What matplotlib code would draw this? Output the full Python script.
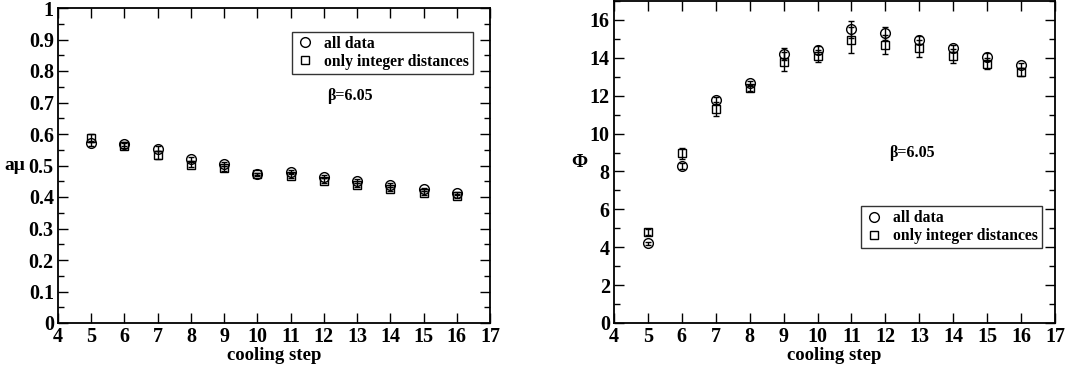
import matplotlib
matplotlib.use("Agg")
import matplotlib.pyplot as plt
import numpy as np
from matplotlib.ticker import MultipleLocator
from matplotlib.lines import Line2D

plt.rcParams['font.family'] = ['Liberation Serif', 'DejaVu Serif']
plt.rcParams['font.weight'] = 'bold'

steps = [5, 6, 7, 8, 9, 10, 11, 12, 13, 14, 15, 16]

# a*mu
amu_all = [0.570, 0.568, 0.553, 0.520, 0.505, 0.473, 0.480, 0.465, 0.450, 0.437, 0.424, 0.412]
amu_all_err = [0.008, 0.006, 0.008, 0.006, 0.006, 0.004, 0.006, 0.006, 0.006, 0.006, 0.006, 0.005]
amu_int = [0.588, 0.563, 0.533, 0.503, 0.492, 0.472, 0.467, 0.452, 0.438, 0.425, 0.413, 0.402]
amu_int_err = [0.012, 0.008, 0.012, 0.008, 0.008, 0.005, 0.008, 0.008, 0.007, 0.007, 0.007, 0.006]

# Phi
phi_all = [4.2, 8.3, 11.75, 12.65, 14.2, 14.4, 15.5, 15.3, 14.95, 14.5, 14.05, 13.6]
phi_all_err = [0.1, 0.15, 0.2, 0.15, 0.3, 0.2, 0.45, 0.35, 0.2, 0.2, 0.2, 0.15]
phi_int = [4.8, 8.95, 11.3, 12.4, 13.8, 14.1, 14.95, 14.7, 14.5, 14.1, 13.7, 13.25]
phi_int_err = [0.15, 0.3, 0.35, 0.15, 0.5, 0.3, 0.7, 0.5, 0.45, 0.35, 0.3, 0.2]

amu_ticks = [0, 0.1, 0.2, 0.3, 0.4, 0.5, 0.6, 0.7, 0.8, 0.9, 1]
amu_ticklabels = ['0', '0.1', '0.2', '0.3', '0.4', '0.5', '0.6', '0.7', '0.8', '0.9', '1']

fig = plt.figure(figsize=(10.9, 3.72), dpi=100)
ax1 = fig.add_axes([58/1090, 1-323/372, 432/1090, 315/372])
ax2 = fig.add_axes([614/1090, 1-323/372, 441/1090, 322/372])

handles = [Line2D([], [], ls='none', marker='o', mfc='none', mec='black', ms=7, mew=1.0),
           Line2D([], [], ls='none', marker='s', mfc='none', mec='black', ms=6, mew=1.0)]
labels = ['all data', 'only integer distances']

def draw(ax, y1, e1, y2, e2):
    ax.errorbar(steps, y1, yerr=e1, fmt='o', mfc='none', mec='black', ecolor='black',
                ms=7, mew=1.0, elinewidth=1.0, capsize=2)
    ax.errorbar(steps, y2, yerr=e2, fmt='s', mfc='none', mec='black', ecolor='black',
                ms=6, mew=1.0, elinewidth=1.0, capsize=2)
    ax.set_xlim(4, 17)
    ax.set_xticks(range(4, 18))
    ax.tick_params(which='both', direction='in', top=True, right=True, labelsize=14.5, width=1)
    ax.tick_params(which='major', length=7, pad=3)
    ax.tick_params(which='minor', length=4)
    for s in ax.spines.values():
        s.set_linewidth(1.3)
    ax.set_xlabel('cooling step', fontsize=13.5, fontweight='bold', labelpad=0)

draw(ax1, amu_all, amu_all_err, amu_int, amu_int_err)
ax1.set_ylim(0, 1)
ax1.set_yticks(amu_ticks)
ax1.set_yticklabels(amu_ticklabels)
ax1.yaxis.set_minor_locator(MultipleLocator(0.05))
ax1.set_ylabel('a\u03bc', fontsize=14, fontweight='bold', rotation=0, va='center', ha='center')
ax1.yaxis.set_label_coords(-0.1, 0.5)
ax1.text(12.1, 0.72, '\u03b2=6.05', fontsize=11.5, fontweight='bold', va='center')
leg1 = ax1.legend(handles, labels, loc='upper right', bbox_to_anchor=(0.96, 0.925), fontsize=11.3,
                  frameon=True, fancybox=False, edgecolor='black', borderpad=0.25,
                  handletextpad=0.6, labelspacing=0.15, handlelength=1.2, borderaxespad=0)
leg1.get_frame().set_linewidth(1.0)

draw(ax2, phi_all, phi_all_err, phi_int, phi_int_err)
ax2.set_ylim(0, 17)
ax2.yaxis.set_major_locator(MultipleLocator(2))
ax2.yaxis.set_minor_locator(MultipleLocator(1))
ax2.set_ylabel('\u03a6', fontsize=14, fontweight='bold', rotation=0, va='center', ha='center')
ax2.yaxis.set_label_coords(-0.078, 0.497)
ax2.text(12.1, 9.0, '\u03b2=6.05', fontsize=11.5, fontweight='bold', va='center')
leg2 = ax2.legend(handles, labels, loc='lower right', bbox_to_anchor=(0.97, 0.232), fontsize=11.3,
                  frameon=True, fancybox=False, edgecolor='black', borderpad=0.25,
                  handletextpad=0.6, labelspacing=0.15, handlelength=1.2, borderaxespad=0)
leg2.get_frame().set_linewidth(1.0)

fig.savefig('out.png', dpi=100)
